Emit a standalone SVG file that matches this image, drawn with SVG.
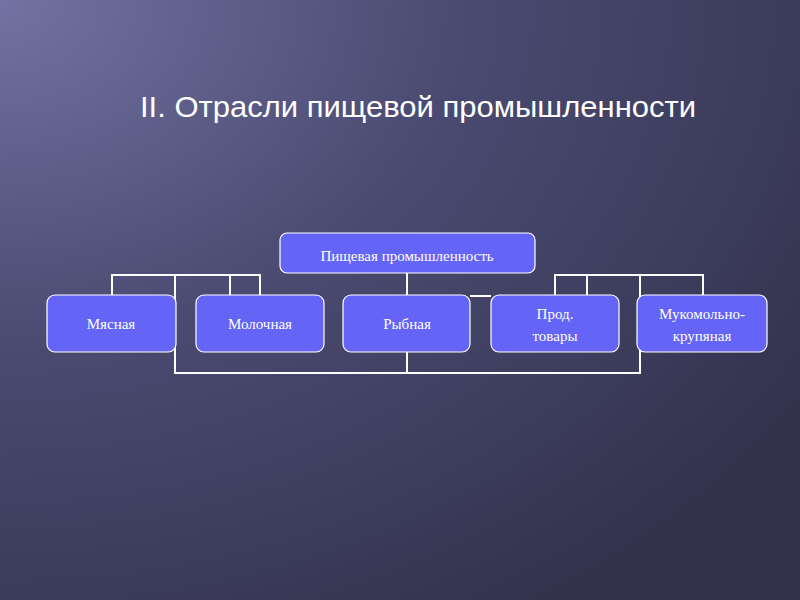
<svg xmlns="http://www.w3.org/2000/svg" width="800" height="600" viewBox="0 0 800 600">
<defs>
<radialGradient id="bg" cx="0" cy="0" r="1.2" gradientUnits="objectBoundingBox">
<stop offset="0" stop-color="#7373a3"/><stop offset="0.45" stop-color="#4c4c74"/><stop offset="1" stop-color="#33334e"/>
</radialGradient>
<style>
.box{fill:#6464f6;stroke:#ffffff;stroke-width:1.2}
.t{font-family:"Liberation Serif",serif;font-size:15px;fill:#ffffff;text-anchor:middle}
.c{fill:none;stroke:#ffffff;stroke-width:2}
</style>
</defs>
<rect width="800" height="600" fill="url(#bg)"/>
<text x="418" y="117" font-family="Liberation Sans,Arial,sans-serif" font-size="29" fill="#ffffff" text-anchor="middle" textLength="556" lengthAdjust="spacingAndGlyphs">II. Отрасли пищевой промышленности</text>
<g id="connectors">
<polyline class="c" points="112,295 112,275 260,275 260,295"/>
<line class="c" x1="230" y1="275" x2="230" y2="295"/>
<polyline class="c" points="555,295 555,275 703,275 703,295"/>
<line class="c" x1="587" y1="275" x2="587" y2="295"/>
<line class="c" x1="407" y1="273" x2="407" y2="295"/>
<line class="c" x1="470" y1="296" x2="491" y2="296"/>
<polyline class="c" points="175,275 175,373 640,373 640,275"/>
<line class="c" x1="407" y1="352" x2="407" y2="373"/>
</g>
<g id="n0"><rect class="box" x="280" y="233" width="255" height="40" rx="7"/><text class="t" x="407" y="261">Пищевая промышленность</text></g>
<g id="n1"><rect class="box" x="47" y="295" width="129" height="57" rx="8"/><text class="t" x="111" y="329">Мясная</text></g>
<g id="n2"><rect class="box" x="196" y="295" width="128" height="57" rx="8"/><text class="t" x="260" y="329">Молочная</text></g>
<g id="n3"><rect class="box" x="343" y="295" width="127" height="57" rx="8"/><text class="t" x="407" y="329">Рыбная</text></g>
<g id="n4"><rect class="box" x="491" y="295" width="128" height="57" rx="8"/><text class="t" x="555" y="319">Прод.</text><text class="t" x="555" y="341">товары</text></g>
<g id="n5"><rect class="box" x="637" y="295" width="130" height="57" rx="8"/><text class="t" x="702" y="319">Мукомольно-</text><text class="t" x="702" y="341">крупяная</text></g>
</svg>
